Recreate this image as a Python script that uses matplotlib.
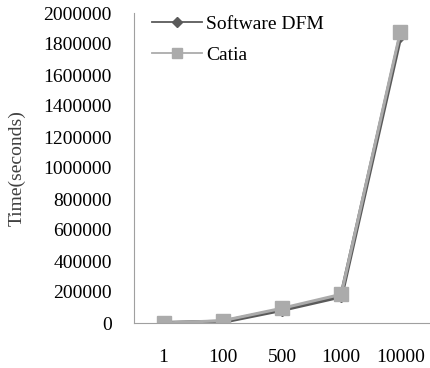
import matplotlib
matplotlib.use("Agg")
import matplotlib.pyplot as plt
from matplotlib.lines import Line2D

plt.rcParams['font.family'] = ['Liberation Serif', 'DejaVu Serif']

# datos de tiempo por numero de piezas
categorias = ['1', '100', '500', '1000', '10000']
software_dfm = [0, 8000, 85000, 172000, 1850000]
catia = [0, 15000, 95000, 185000, 1880000]

fig = plt.figure(figsize=(4.30, 3.68), dpi=100)
ax = fig.add_axes([134/430, 1 - 323/368, 296/430, 310/368])

x = range(len(categorias))
ax.plot(x, software_dfm, color='#5a5a5a', lw=3, marker='D', markersize=6)
ax.plot(x, catia, color='#ababab', lw=2.2, marker='s', markersize=10)

ax.set_xlim(-0.5, 4.5)
ax.set_ylim(0, 2000000)
ax.set_xticks(list(x))
ax.set_xticklabels(categorias, fontsize=14)
ax.set_yticks(range(0, 2000001, 200000))
ax.set_yticklabels([str(v) for v in range(0, 2000001, 200000)], fontsize=14)
ax.tick_params(length=0)
ax.tick_params(axis='y', pad=16)
ax.tick_params(axis='x', pad=19)
ax.set_ylabel('Time(seconds)', fontsize=14, color='#404040')
ax.yaxis.set_label_coords(-108/296, 0.5)

for s in ['top', 'right']:
    ax.spines[s].set_visible(False)
for s in ['left', 'bottom']:
    ax.spines[s].set_color('#a0a0a0')

# leyenda con lineas finas
h_dfm = Line2D([], [], color='#5a5a5a', lw=1.3, marker='D', markersize=5)
h_catia = Line2D([], [], color='#ababab', lw=1.3, marker='s', markersize=7)
ax.legend([h_dfm, h_catia], ['Software DFM', 'Catia'], loc='upper left',
          bbox_to_anchor=(0.0, 1.05), frameon=False, fontsize=14,
          handlelength=2.6, labelspacing=0.7, handletextpad=0.2)

plt.savefig('out.png', dpi=100)
